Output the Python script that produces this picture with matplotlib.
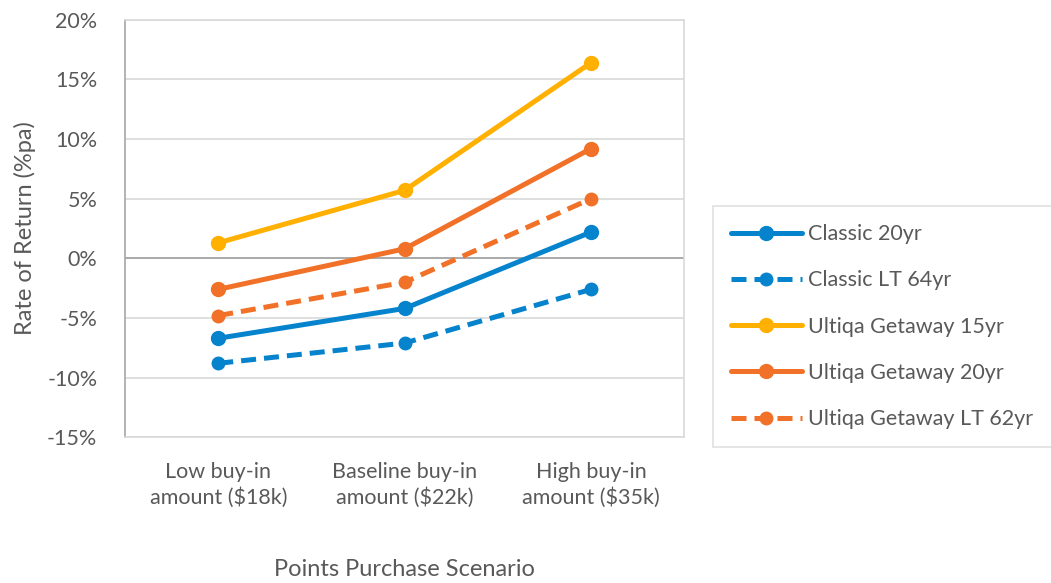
import numpy as np
import matplotlib
matplotlib.use("Agg")
import matplotlib.pyplot as plt
from matplotlib.ticker import FuncFormatter

plt.rcParams['font.family'] = ['Lato', 'DejaVu Sans']

scenarios = ["Low buy-in\namount ($18k)", "Baseline buy-in\namount ($22k)", "High buy-in\namount ($35k)"]

classic_20 = [-6.7, -4.2, 2.2]
classic_lt_64 = [-8.8, -7.1, -2.6]
getaway_15 = [1.3, 5.7, 16.4]
getaway_20 = [-2.6, 0.8, 9.2]
getaway_lt_62 = [-4.8, -2.0, 5.0]

series_names = ["Classic 20yr", "Classic LT 64yr", "Ultiqa Getaway 15yr",
                "Ultiqa Getaway 20yr", "Ultiqa Getaway LT 62yr"]

BLUE = '#0583CC'
YELLOW = '#FFB000'
ORANGE = '#F07127'
GREY = '#595959'

fig = plt.figure(figsize=(10.51, 5.83), dpi=100)
ax = fig.add_axes([0.119, 0.250, 0.532, 0.716])

x = np.arange(len(scenarios))
styles = [
    (classic_20, BLUE, '-'),
    (classic_lt_64, BLUE, (0, (3, 1.6))),
    (getaway_15, YELLOW, '-'),
    (getaway_20, ORANGE, '-'),
    (getaway_lt_62, ORANGE, (0, (3, 1.6))),
]
for (vals, col, ls), name in zip(styles, series_names):
    ms = 10 if ls == '-' else 9
    ax.plot(x, vals, color=col, linestyle=ls, linewidth=3.6, marker='o',
            markersize=ms, label=name, solid_capstyle='round', dash_capstyle='butt')

ax.set_xlim(-0.5, 2.5)
ax.set_ylim(-15, 20)
ax.set_yticks(np.arange(-15, 21, 5))
ax.yaxis.set_major_formatter(FuncFormatter(lambda v, p: f"{v:.0f}%"))
ax.set_xticks(x)
ax.set_xticklabels(scenarios, linespacing=1.3)
ax.grid(axis='y', color='#D9D9D9', linewidth=1.2)
ax.set_axisbelow(True)
ax.axhline(0, color='#A6A6A6', linewidth=1.3, zorder=1.5)

for side in ['top', 'right', 'bottom']:
    ax.spines[side].set_color('#D9D9D9')
    ax.spines[side].set_linewidth(1.2)
ax.spines['left'].set_color('#A6A6A6')
ax.spines['left'].set_linewidth(1.2)

ax.tick_params(axis='both', length=0, colors=GREY, labelsize=15.5)
ax.tick_params(axis='y', pad=20)
ax.tick_params(axis='x', pad=18)

ax.set_ylabel("Rate of Return (%pa)", color=GREY, fontsize=17, labelpad=8)
ax.set_xlabel("Points Purchase Scenario", color=GREY, fontsize=17, labelpad=37)

leg = fig.legend(loc='upper left', bbox_to_anchor=(0.678, 0.647), fontsize=15.5,
                 frameon=True, fancybox=False, edgecolor='#D9D9D9',
                 handlelength=3.3, handletextpad=0.3, labelspacing=1.22,
                 borderpad=0.85, borderaxespad=0)
leg.get_frame().set_linewidth(1.2)
for t in leg.get_texts():
    t.set_color(GREY)

fig.savefig("out.png", dpi=100)
